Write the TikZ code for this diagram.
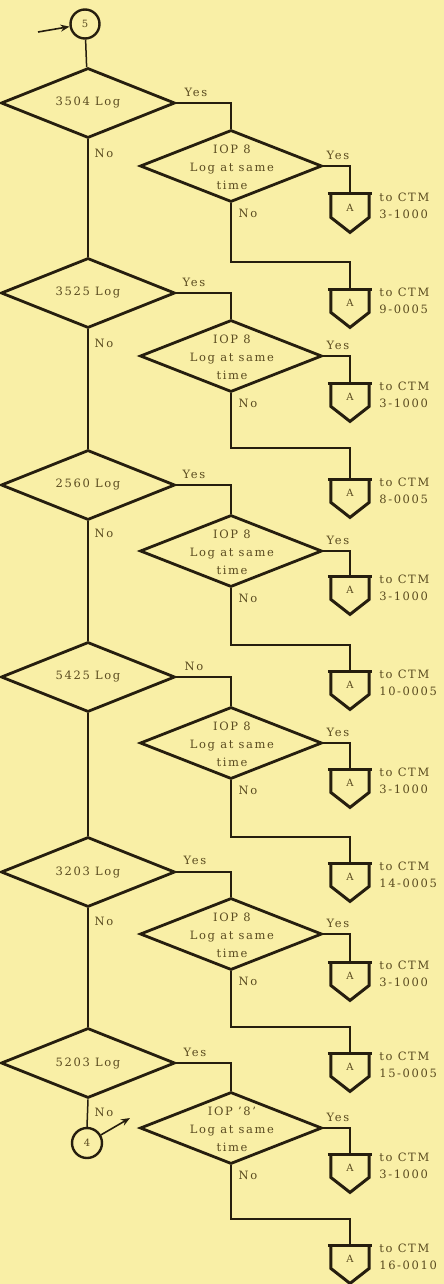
\documentclass[tikz,border=0pt]{standalone}
\usepackage{fontspec}
\setmainfont{DejaVu Serif}[LetterSpace=14]
\usetikzlibrary{shapes.geometric,arrows.meta,calc}
\definecolor{bg}{RGB}{249,239,166}
\definecolor{ink}{RGB}{38,30,14}
\definecolor{txt}{RGB}{90,75,32}
\tikzset{
  maindia/.style={diamond,draw=ink,line width=2.8pt,minimum width=174pt,minimum height=70pt,inner sep=0pt},
  subdia/.style={diamond,draw=ink,line width=2.8pt,minimum width=182pt,minimum height=72pt,inner sep=0pt},
  lbl/.style={text=txt,font=\fontsize{11.5}{17}\selectfont,inner sep=0pt},
  lbll/.style={lbl,align=left},
  dtext/.style={lbl,align=center,font=\fontsize{11.5}{18}\selectfont},
  conn/.style={draw=ink,line width=1.5pt},
  conncirc/.style={circle,draw=ink,line width=2.4pt,inner sep=0pt,text=txt,font=\fontsize{10}{10}\selectfont},
  offbox/.style={rectangle,draw=none,minimum width=38pt,minimum height=38pt,inner sep=0pt},
  athick/.style={draw=ink,line width=3pt},
  arr/.style={draw=ink,line width=1.6pt,-{Stealth[length=9pt,width=7pt]}}
}
\newcommand\offpg[5]{%
  \node[offbox,anchor=north] (#1) at (#2,#3) {};
  \node[lbl,font=\fontsize{10}{10}\selectfont] (#1a) at ([yshift=-14pt]#1.north) {A};
  \draw[athick] ([xshift=-3pt]#1.north west) -- ([xshift=3pt]#1.north east);
  \draw[athick,line join=miter] (#1.north west) -- ([yshift=15pt]#1.south west) -- (#1.south) -- ([yshift=15pt]#1.south east) -- (#1.north east);
  \node[lbll,anchor=north west] (#1t) at ([xshift=10pt,yshift=1pt]#1.north east) {#4\\#5};
}
\begin{document}
\begin{tikzpicture}[x=1pt,y=-1pt]
\fill[bg] (0,0) rectangle (444,1284);
\useasboundingbox (0,0) rectangle (444,1284);

% start connector
\node[conncirc,minimum size=29pt] (c5) at (85,24) {5};
\coordinate (c5in) at (38,32);
\draw[arr] (c5in) -- (c5);

% main diamonds
\node[maindia] (m1) at (88,103) {};
\node[maindia] (m2) at (88,293) {};
\node[maindia] (m3) at (88,485) {};
\node[maindia] (m4) at (88,677) {};
\node[maindia] (m5) at (88,872) {};
\node[maindia] (m6) at (88,1063) {};
\node[lbl] (m1t) at (m1) {3504 Log};
\node[lbl] (m2t) at (m2) {3525 Log};
\node[lbl] (m3t) at (m3) {2560 Log};
\node[lbl] (m4t) at (m4) {5425 Log};
\node[lbl] (m5t) at (m5) {3203 Log};
\node[lbl] (m6t) at (m6) {5203 Log};

% sub diamonds
\node[subdia] (s1) at (231,166) {};
\node[subdia] (s2) at (231,356) {};
\node[subdia] (s3) at (231,551) {};
\node[subdia] (s4) at (231,743) {};
\node[subdia] (s5) at (231,934) {};
\node[subdia] (s6) at (231,1128) {};
\node[dtext] (s1t) at (232,167) {IOP 8\\Log at same\\time};
\node[dtext] (s2t) at (232,357) {IOP 8\\Log at same\\time};
\node[dtext] (s3t) at (232,552) {IOP 8\\Log at same\\time};
\node[dtext] (s4t) at (232,744) {IOP 8\\Log at same\\time};
\node[dtext] (s5t) at (232,935) {IOP 8\\Log at same\\time};
\node[dtext] (s6t) at (232,1129) {IOP '8'\\Log at same\\time};

% off-page connectors
\offpg{ay1}{350}{194}{to CTM}{3-1000}
\offpg{an1}{350}{289}{to CTM}{9-0005}
\offpg{ay2}{350}{383}{to CTM}{3-1000}
\offpg{an2}{350}{479}{to CTM}{8-0005}
\offpg{ay3}{350}{576}{to CTM}{3-1000}
\offpg{an3}{350}{671}{to CTM}{10-0005}
\offpg{ay4}{350}{769}{to CTM}{3-1000}
\offpg{an4}{350}{863}{to CTM}{14-0005}
\offpg{ay5}{350}{962}{to CTM}{3-1000}
\offpg{an5}{350}{1053}{to CTM}{15-0005}
\offpg{ay6}{350}{1154}{to CTM}{3-1000}
\offpg{an6}{350}{1245}{to CTM}{16-0010}

% end connector
\node[conncirc,minimum size=30pt] (c4) at (87,1143) {4};
\coordinate (s6in) at (130,1118);
\draw[arr] (c4) -- (s6in);

% main spine
\draw[conn] (c5) -- (m1);
\draw[conn] (m1.south) -- (m2.north);
\draw[conn] (m2.south) -- (m3.north);
\draw[conn] (m3.south) -- (m4.north);
\draw[conn] (m4.south) -- (m5.north);
\draw[conn] (m5.south) -- (m6.north);
\draw[conn] (m6.south) -- (c4.north);

% main -> sub, sub -> yes exits
\foreach \i in {1,...,6}{
  \draw[conn] (m\i.east) -| (s\i.north);
  \draw[conn] (s\i.east) -| (ay\i.north);
}
% no routes
\coordinate (h1) at (350,262);
\coordinate (h2) at (350,448);
\coordinate (h3) at (350,645);
\coordinate (h4) at (350,837);
\coordinate (h5) at (350,1027);
\coordinate (h6) at (350,1219);
\foreach \i in {1,...,6}{
  \draw[conn] (s\i.south) |- (h\i) -- (an\i.north);
}

% labels
\node[lbl] (m1y) at (196,92) {Yes};
\node[lbl] (m2y) at (194,282) {Yes};
\node[lbl] (m3y) at (194,474) {Yes};
\node[lbl] (m4y) at (194,666) {No};
\node[lbl] (m5y) at (195,860) {Yes};
\node[lbl] (m6y) at (195,1052) {Yes};
\node[lbl] (m1n) at (104,153) {No};
\node[lbl] (m2n) at (104,343) {No};
\node[lbl] (m3n) at (104,533) {No};
\node[lbl] (m5n) at (104,921) {No};
\node[lbl] (m6n) at (104,1112) {No};
\foreach \i/\y in {1/166,2/356,3/551,4/743,5/934,6/1128}{
  \node[lbl] (s\i y) at (338,\y-11) {Yes};
  \node[lbl] (s\i n) at (248,\y+47) {No};
}
\end{tikzpicture}
\end{document}
